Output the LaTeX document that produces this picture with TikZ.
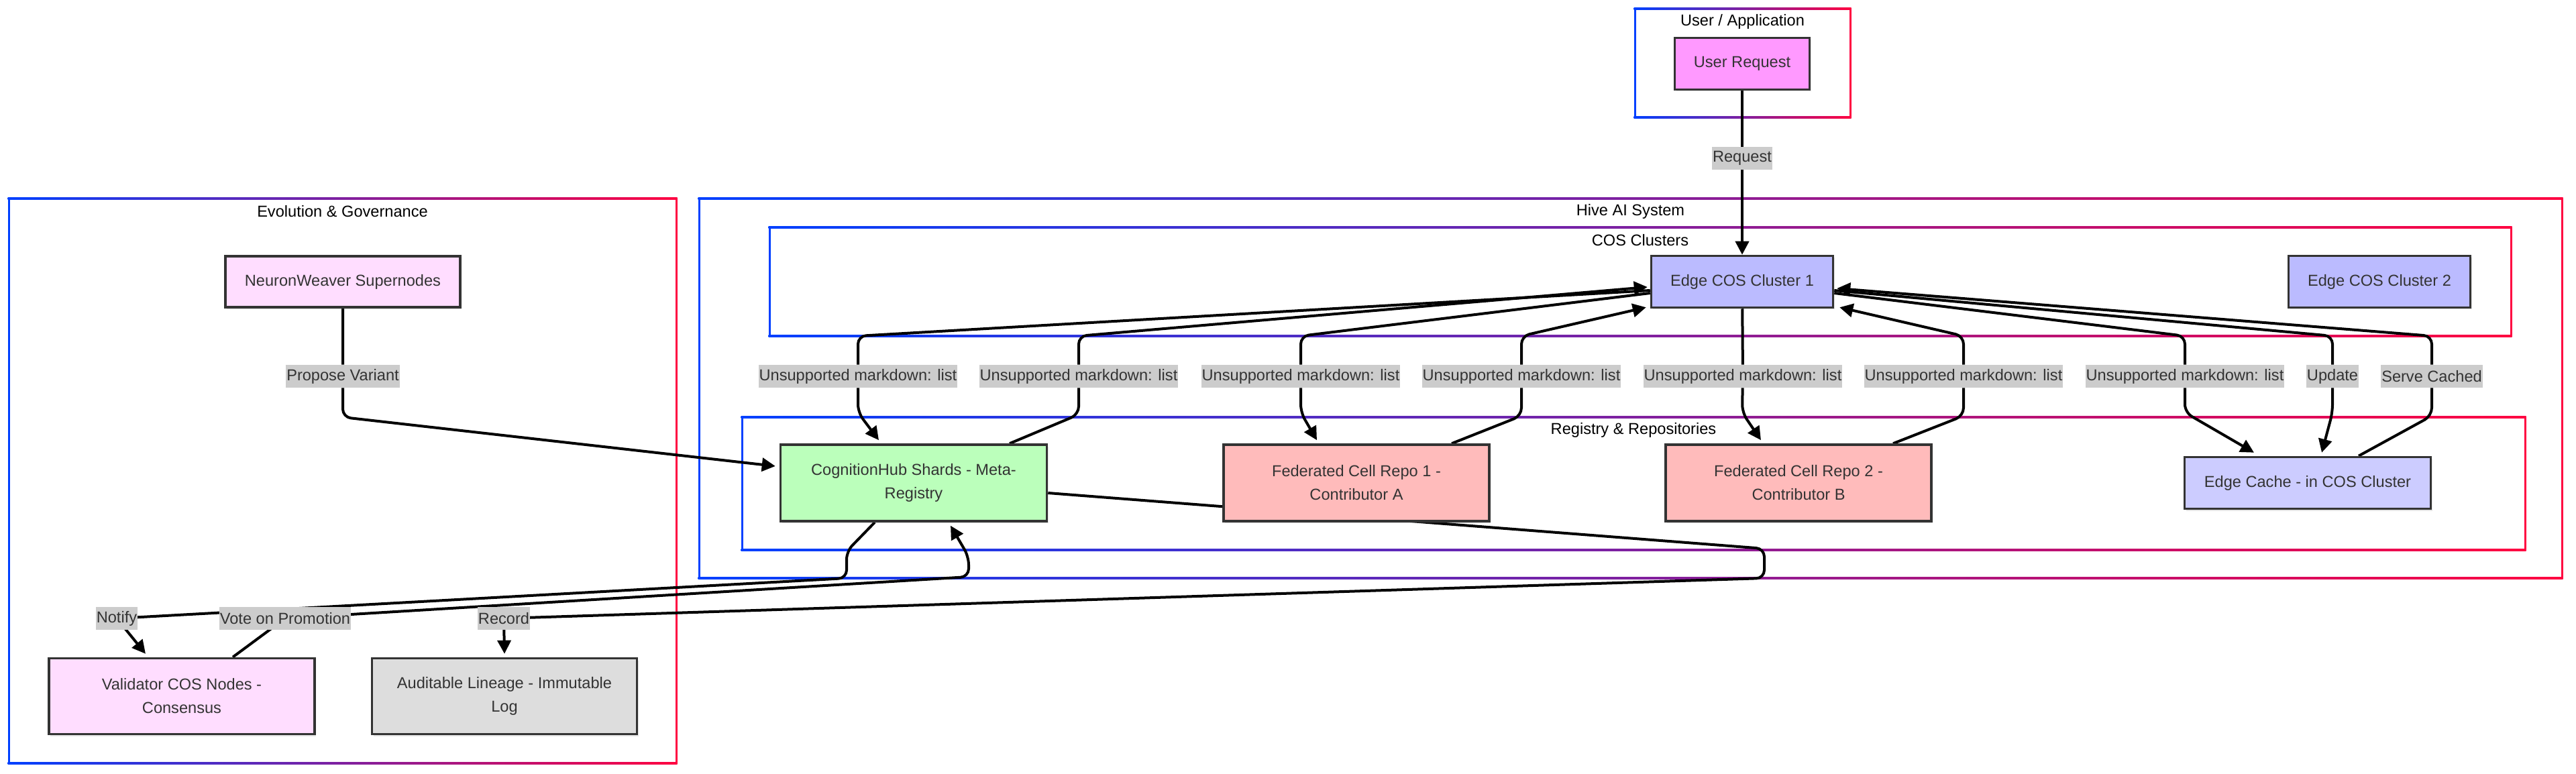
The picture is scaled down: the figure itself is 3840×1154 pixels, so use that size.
\documentclass[tikz,border=0pt]{standalone}
\usepackage{fontspec}
\setmainfont{Liberation Sans}
\usetikzlibrary{arrows.meta,calc,shadows}
\pgfdeclarelayer{back}
\pgfdeclarelayer{mid}
\pgfsetlayers{back,mid,main}
\definecolor{cblue}{RGB}{0,64,255}
\definecolor{cred}{RGB}{255,0,64}
\definecolor{boxline}{HTML}{333333}
\definecolor{txt}{HTML}{333333}
\definecolor{userfill}{HTML}{FF99FF}
\definecolor{govfill}{HTML}{FFDDFF}
\definecolor{clusfill}{HTML}{BBBBFF}
\definecolor{cachefill}{HTML}{CCCCFF}
\definecolor{hubfill}{HTML}{BBFFBB}
\definecolor{repofill}{HTML}{FFBBBB}
\definecolor{logfill}{HTML}{DDDDDD}
\definecolor{labfill}{HTML}{CCCCCC}

\begin{document}
\begin{tikzpicture}[x=0.5pt, y=-0.5pt,
  every node/.style={font=\fontsize{11.8}{17.5}\selectfont},
  block/.style={draw=boxline, line width=1.75pt, text=txt, align=center, inner sep=0pt,
    drop shadow={opacity=0.2, shadow xshift=1pt, shadow yshift=-1.5pt}},
  elabel/.style={fill=labfill, text=txt, inner xsep=0.5pt, inner ysep=0pt, minimum height=17pt},
  ctitle/.style={text=black},
  flow/.style={line width=2pt, rounded corners=6pt, -{Triangle[length=10pt,width=10pt]}}]
  \useasboundingbox (0,0) rectangle (3840,1154);

  \begin{pgfonlayer}{back}
  \fill[white] (0,0) rectangle (3840,1154);
  \foreach \xa/\ya/\xb/\yb/\ttl in {2437/13/2758/175/{User / Application},
      13/296/1008/1138/{Evolution \& Governance}, 1042/296/3819/862/{Hive AI System},
      1147/339/3743/501/{COS Clusters}, 1106/622/3764/820/{Registry \& Repositories}}{
    \shade[left color=cblue, right color=cred] (\xa-1.5,\ya-1.5) rectangle (\xb+1.5,\ya+1.5);
    \shade[left color=cblue, right color=cred] (\xa-1.5,\yb-1.5) rectangle (\xb+1.5,\yb+1.5);
    \fill[cblue] (\xa-1.5,\ya) rectangle (\xa+1.5,\yb);
    \fill[cred] (\xb-1.5,\ya) rectangle (\xb+1.5,\yb);
    \node[ctitle] at ({(\xa+\xb)/2},\ya+19) {\ttl};
  }
  \end{pgfonlayer}

  \node[block, fill=userfill, minimum width=100.5pt, minimum height=38.5pt] (ur) at (2597,95) {User Request};
  \node[block, fill=govfill, minimum width=175pt, minimum height=38pt] (nw) at (511,420) {NeuronWeaver Supernodes};
  \node[block, fill=clusfill, minimum width=135.5pt, minimum height=38.5pt] (ec1) at (2597,420) {Edge COS Cluster 1};
  \node[block, fill=clusfill, minimum width=135.5pt, minimum height=38.5pt] (ec2) at (3547,420) {Edge COS Cluster 2};
  \node[block, fill=hubfill, minimum width=198.5pt, minimum height=57pt] (ch) at (1362,720) {CognitionHub Shards - Meta-\\Registry};
  \node[block, fill=repofill, minimum width=198pt, minimum height=57pt] (fr1) at (2022,720) {Federated Cell Repo 1 -\\Contributor A};
  \node[block, fill=repofill, minimum width=198pt, minimum height=57pt] (fr2) at (2681,720) {Federated Cell Repo 2 -\\Contributor B};
  \node[block, fill=cachefill, minimum width=183.5pt, minimum height=38.5pt] (ecache) at (3440,720) {Edge Cache - in COS Cluster};
  \node[block, fill=govfill, minimum width=198pt, minimum height=56.5pt] (val) at (271,1038) {Validator COS Nodes -\\Consensus};
  \node[block, fill=logfill, minimum width=197.5pt, minimum height=56.5pt] (aud) at (752,1038) {Auditable Lineage - Immutable\\Log};

  \node[elabel] (rq) at (2597,236) {Request};
  \node[elabel] (pv) at (511,561) {Propose Variant};
  \node[elabel] (u1) at (1279,561) {Unsupported markdown: list};
  \node[elabel] (u2) at (1608,561) {Unsupported markdown: list};
  \node[elabel] (u3) at (1939,561) {Unsupported markdown: list};
  \node[elabel] (u4) at (2268,561) {Unsupported markdown: list};
  \node[elabel] (u5) at (2598,561) {Unsupported markdown: list};
  \node[elabel] (u6) at (2927,561) {Unsupported markdown: list};
  \node[elabel] (u7) at (3257,561) {Unsupported markdown: list};
  \node[elabel] (up) at (3477,561) {Update};
  \node[elabel] (sc) at (3625,561) {Serve Cached};
  \node[elabel] (nt) at (174,922) {Notify};
  \node[elabel] (vt) at (425,922) {Vote on Promotion};
  \node[elabel] (rc) at (751,922) {Record};

  \begin{pgfonlayer}{mid}
  \draw[flow] (ur) -- (rq) -- (ec1);
  \draw[flow] (nw) -- (pv) -- (511,622) -- ($(ch.west)+(-6,-25)$);
  % cluster 1 to the registry and back
  \draw[flow] ($(ec1.west)+(0,13)$) -- (1279,501) -- (u1) -- (1279,615) -- ($(ch.north)+(-52,-5)$);
  \draw[flow] ($(ch.north)+(143,0)$) -- (1608,618) -- (u2) -- (1608,501) -- ($(ec1.west)+(-4,8)$);
  \draw[flow] ($(ec1.west)+(0,17)$) -- (1939,501) -- (u3) -- (1939,615) -- ($(fr1.north)+(-59,-5)$);
  \draw[flow] ($(fr1.north)+(142,0)$) -- (2268,620) -- (u4) -- (2268,501) -- ($(ec1.south west)+(-6,-2)$);
  \draw[flow] (ec1) -- (u5) -- (2597,615) -- ($(fr2.north)+(-56,-5)$);
  \draw[flow] ($(fr2.north)+(141,0)$) -- (2927,620) -- (u6) -- (2927,501) -- ($(ec1.south east)+(8,-2)$);
  \draw[flow] ($(ec1.east)+(0,17)$) -- (3257,501) -- (u7) -- (3257,615) -- ($(ecache.north)+(-80,-5)$);
  \draw[flow] ($(ec1.east)+(0,13)$) -- (3477,501) -- (up) -- (3477,615) -- ($(ecache.north)+(21,-5)$);
  \draw[flow] ($(ecache.north)+(76,0)$) -- (3625,620) -- (sc) -- (3625,501) -- ($(ec1.east)+(4,10)$);
  % governance loop
  \draw[flow] ($(ch.south)+(-58,0)$) -- (1262,822) -- (1262,862) -- (nt.center) -- ($(val.north)+(-54,-5)$);
  \draw[flow] ($(val.north)+(76,0)$) -- (vt.center) -- (1444,860) -- (1444,830) -- ($(ch.south)+(55,5)$);
  \draw[flow] ($(ch.east)+(0,15)$) -- (2630,818) -- (2630,862) -- (rc.center) -- ($(aud.north)+(0,-5)$);
  \end{pgfonlayer}
\end{tikzpicture}
\end{document}
